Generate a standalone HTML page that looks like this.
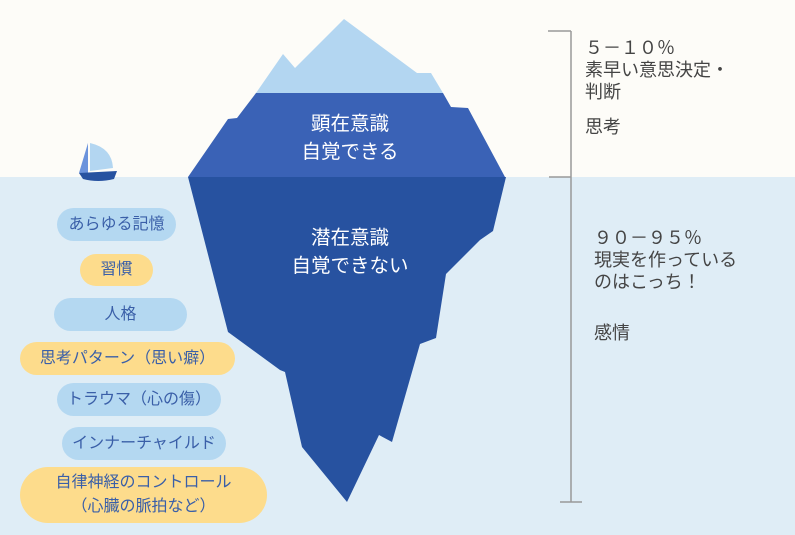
<!DOCTYPE html>
<html><head><meta charset="utf-8"><style>
body{margin:0;width:795px;height:535px;overflow:hidden;background:#fdfcf8;font-family:"Liberation Sans","Noto Sans CJK JP",sans-serif;position:relative}
.sea{position:absolute;left:0;top:177px;width:795px;height:358px;background:#dfedf6}
.pill{position:absolute;border-radius:17px;display:flex;align-items:center;justify-content:center;color:#3a5fa8;font-size:16px;text-align:center;line-height:24px}
.b{background:#b4d8f1}.y{background:#fddc8c}
.t{position:absolute;color:#444;font-size:18px;line-height:22px}
.w{position:absolute;color:#fff;font-size:19.5px;line-height:28px;text-align:center;width:200px}
</style></head><body>
<div class="sea"></div>
<svg width="795" height="535" style="position:absolute;left:0;top:0">
<polygon points="256,93 283,54 295,68 344,19 417,73 431,73 443,93" fill="#b3d6f1"/>
<polygon points="256,93 443,93 451,107 468,108 505,177 188,177 228,119 237,118" fill="#3a62b6"/>
<polygon points="188,177 506,177 493,231 480,240 446,274 436,338 420,344 392,442 379,435 347,502 302,447 285,372 280,370 228,332" fill="#2752a0"/>
<g stroke="#999" stroke-width="1.5" fill="none">
<line x1="571" y1="31" x2="571" y2="502"/>
<line x1="548" y1="31" x2="571" y2="31"/>
<line x1="549" y1="177" x2="571" y2="177"/>
<line x1="560" y1="502" x2="582" y2="502"/>
</g>
<polygon points="88,143 88,173 79,173" fill="#6b93dc"/>
<path d="M90,143 Q112,148 113,168 L90,171 Z" fill="#b3d6f1"/>
<path d="M79,173 L117,171 L114,179 Q98,183 83,179 Z" fill="#2752a0"/>
</svg>
<div class="w" style="left:250px;top:110px">顕在意識<br>自覚できる</div>
<div class="w" style="left:250px;top:224px">潜在意識<br>自覚できない</div>
<div class="t" style="left:585px;top:37px">５－１０％<br>素早い意思決定・<br>判断</div>
<div class="t" style="left:585px;top:116px">思考</div>
<div class="t" style="left:594px;top:227px">９０－９５％<br>現実を作っている<br>のはこっち！</div>
<div class="t" style="left:594px;top:322px">感情</div>
<div class="pill b" style="left:57px;top:208px;width:119px;height:33px">あらゆる記憶</div>
<div class="pill y" style="left:80px;top:254px;width:73px;height:32px">習慣</div>
<div class="pill b" style="left:54px;top:298px;width:133px;height:33px">人格</div>
<div class="pill y" style="left:20px;top:342px;width:215px;height:33px">思考パターン（思い癖）</div>
<div class="pill b" style="left:57px;top:383px;width:164px;height:33px">トラウマ（心の傷）</div>
<div class="pill b" style="left:62px;top:427px;width:164px;height:33px">インナーチャイルド</div>
<div class="pill y" style="left:20px;top:467px;width:247px;height:56px;border-radius:28px">自律神経のコントロール<br>（心臓の脈拍など）</div>
</body></html>
